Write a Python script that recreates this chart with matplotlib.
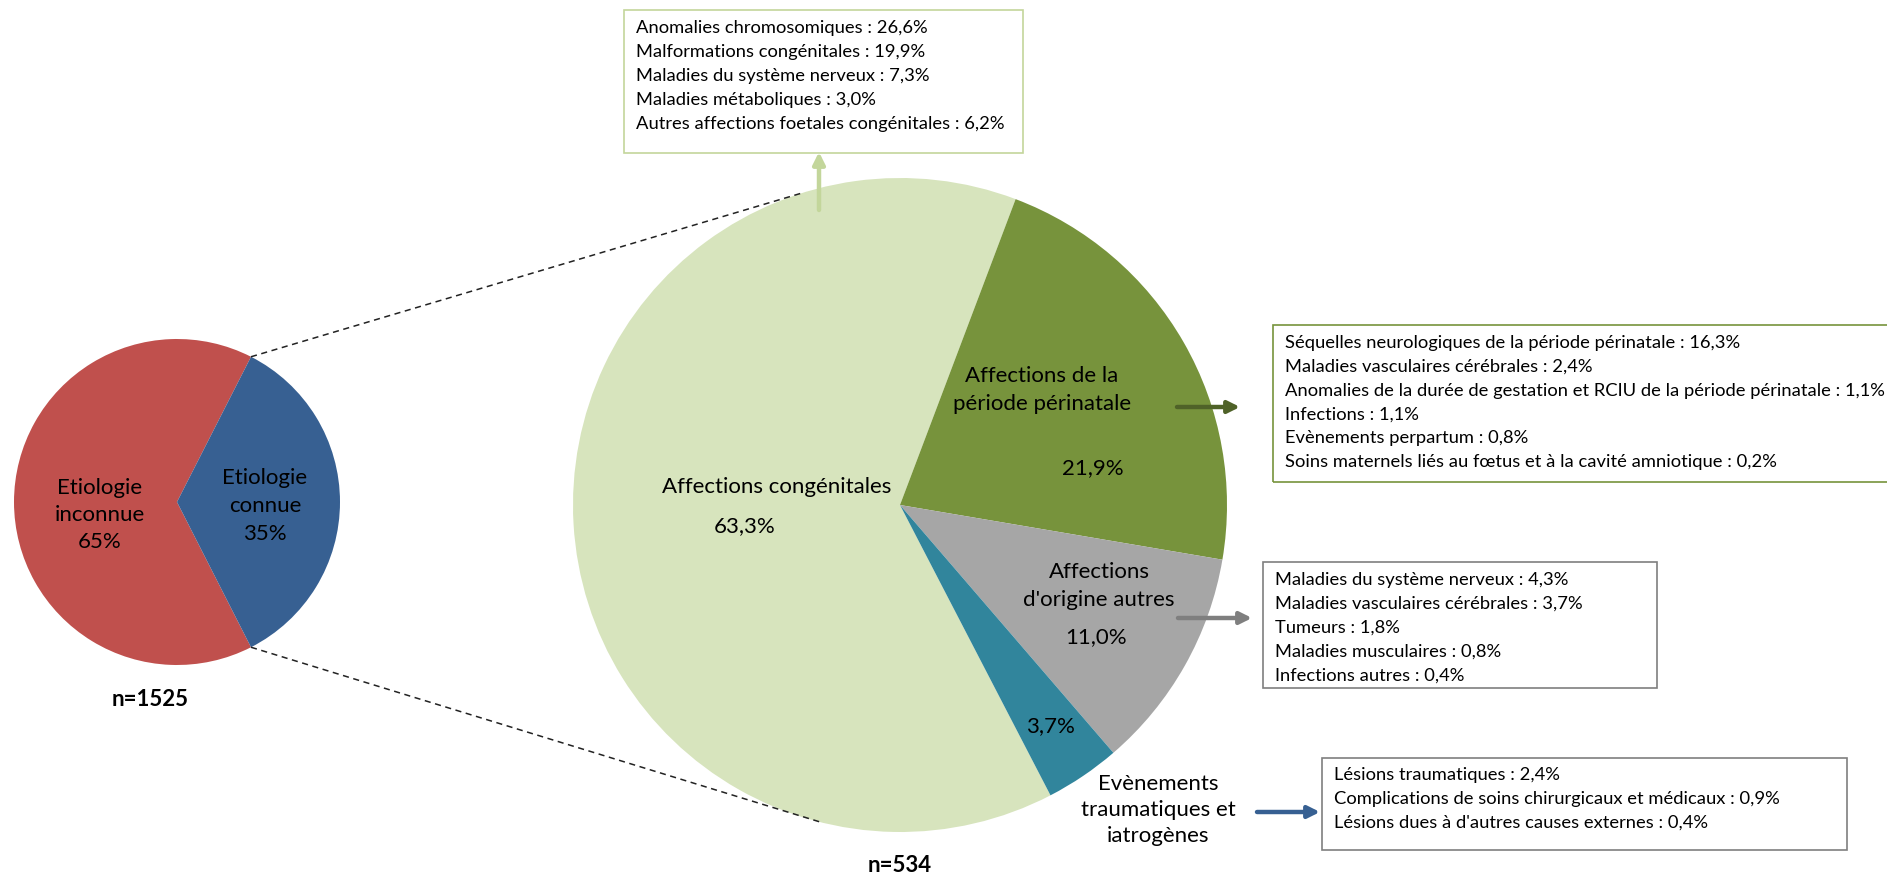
import matplotlib.pyplot as plt
from matplotlib.patches import Rectangle
import numpy as np

plt.rcParams['font.family'] = ['Lato', 'DejaVu Sans']

W, H = 1887, 876

# overall etiology (n=1525)
etio_labels = ["Etiologie\ninconnue\n65%", "Etiologie\nconnue\n35%"]
etio_values = [65, 35]
etio_colors = ["#C0504D", "#376092"]

# known etiology breakdown (n=534)
cause_labels = ["Affections congénitales", "Affections de la\npériode périnatale",
                "Affections\nd'origine autres", "Evènements\ntraumatiques et\niatrogènes"]
cause_values = [63.3, 21.9, 11.0, 3.7]
cause_pct = ["63,3%", "21,9%", "11,0%", "3,7%"]
cause_colors = ["#D7E4BD", "#77933C", "#A6A6A6", "#31859C"]

congenital_detail = ["Anomalies chromosomiques : 26,6%",
                     "Malformations congénitales : 19,9%",
                     "Maladies du système nerveux : 7,3%",
                     "Maladies métaboliques : 3,0%",
                     "Autres affections foetales congénitales : 6,2%"]
perinatal_detail = ["Séquelles neurologiques de la période périnatale : 16,3%",
                    "Maladies vasculaires cérébrales : 2,4%",
                    "Anomalies de la durée de gestation et RCIU de la période périnatale : 1,1%",
                    "Infections : 1,1%",
                    "Evènements perpartum : 0,8%",
                    "Soins maternels liés au fœtus et à la cavité amniotique : 0,2%"]
other_detail = ["Maladies du système nerveux : 4,3%",
                "Maladies vasculaires cérébrales : 3,7%",
                "Tumeurs : 1,8%",
                "Maladies musculaires : 0,8%",
                "Infections autres : 0,4%"]
trauma_detail = ["Lésions traumatiques : 2,4%",
                 "Complications de soins chirurgicaux et médicaux : 0,9%",
                 "Lésions dues à d'autres causes externes : 0,4%"]


def y(py):
    # pixel row (from top) -> data y
    return H - py


fig = plt.figure(figsize=(W / 100, H / 100), dpi=100)
ax = fig.add_axes([0, 0, 1, 1])

small_c = (177, y(502))
small_r = 163
w_small, _ = ax.pie(etio_values, colors=etio_colors, startangle=63, counterclock=True,
                    center=small_c, radius=small_r, wedgeprops=dict(linewidth=0))

big_c = (900, y(505))
big_r = 327
w_big, _ = ax.pie(cause_values, colors=cause_colors, startangle=297.4, counterclock=False,
                  center=big_c, radius=big_r, wedgeprops=dict(linewidth=0))

ax.set_xlim(0, W)
ax.set_ylim(0, H)
ax.set_aspect('equal')
ax.axis('off')

# dashed links between the known slice and the big pie
blue = w_small[1]
for th_small, th_big in [(blue.theta2, 107.2), (blue.theta1, -103.8)]:
    p1 = (small_c[0] + small_r * np.cos(np.radians(th_small)),
          small_c[1] + small_r * np.sin(np.radians(th_small)))
    p2 = (big_c[0] + big_r * np.cos(np.radians(th_big)),
          big_c[1] + big_r * np.sin(np.radians(th_big)))
    ax.plot([p1[0], p2[0]], [p1[1], p2[1]], color="#222222", lw=1.1, ls=(0, (4, 3)))

big_fs = 16
# small pie labels
ax.text(100, y(515), etio_labels[0], ha='center', va='center', fontsize=big_fs, linespacing=1.45)
ax.text(265, y(506), etio_labels[1], ha='center', va='center', fontsize=big_fs, linespacing=1.5)
ax.text(150, y(699), "n=1525", ha='center', va='center', fontsize=big_fs, fontweight='bold')

# big pie labels
ax.text(777, y(487), cause_labels[0], ha='center', va='center', fontsize=big_fs)
ax.text(745, y(526), cause_pct[0], ha='center', va='center', fontsize=big_fs)
ax.text(1042, y(390), cause_labels[1], ha='center', va='center', fontsize=big_fs, linespacing=1.55)
ax.text(1093, y(468), cause_pct[1], ha='center', va='center', fontsize=big_fs)
ax.text(1099, y(586), cause_labels[2], ha='center', va='center', fontsize=big_fs, linespacing=1.55)
ax.text(1096, y(637), cause_pct[2], ha='center', va='center', fontsize=big_fs)
ax.text(1050, y(726), cause_pct[3], ha='center', va='center', fontsize=big_fs)
ax.text(1158, y(810), cause_labels[3], ha='center', va='center', fontsize=big_fs, linespacing=1.4)
ax.text(900, y(866), "n=534", ha='center', va='center', fontsize=big_fs, fontweight='bold')

# detail boxes: (x0, top, x1, bottom, edge colour, lines, first line row, spacing)
box_fs = 13.2
boxes = [
    (624, 10, 1023, 153, "#C3D69B", congenital_detail, 28, 24),
    (1273, 325, 1890, 482, "#77933C", perinatal_detail, 343, 23.8),
    (1263, 562, 1657, 688, "#7F7F7F", other_detail, 580, 24),
    (1322, 758, 1847, 850, "#7F7F7F", trauma_detail, 775, 24),
]
for x0, top, x1, bot, ec, lines, first, step in boxes:
    ax.add_patch(Rectangle((x0, y(bot)), x1 - x0, bot - top, fill=False, edgecolor=ec, lw=1.2))
    for i, line in enumerate(lines):
        ax.text(x0 + 12, y(first + i * step), line, ha='left', va='center', fontsize=box_fs)

# arrows towards the boxes
arrows = [((819, 210), (819, 152), "#C3D69B"),
          ((1177, 407), (1240, 407), "#4F6228"),
          ((1178, 618), (1252, 618), "#7F7F7F"),
          ((1257, 812), (1320, 812), "#376092")]
for (xa, ya), (xb, yb), col in arrows:
    ax.annotate("", xy=(xb, y(yb)), xytext=(xa, y(ya)),
                arrowprops=dict(arrowstyle='-|>,head_length=0.7,head_width=0.35', color=col, lw=3.2,
                                shrinkA=0, shrinkB=0))

fig.savefig("out.png", dpi=100)
